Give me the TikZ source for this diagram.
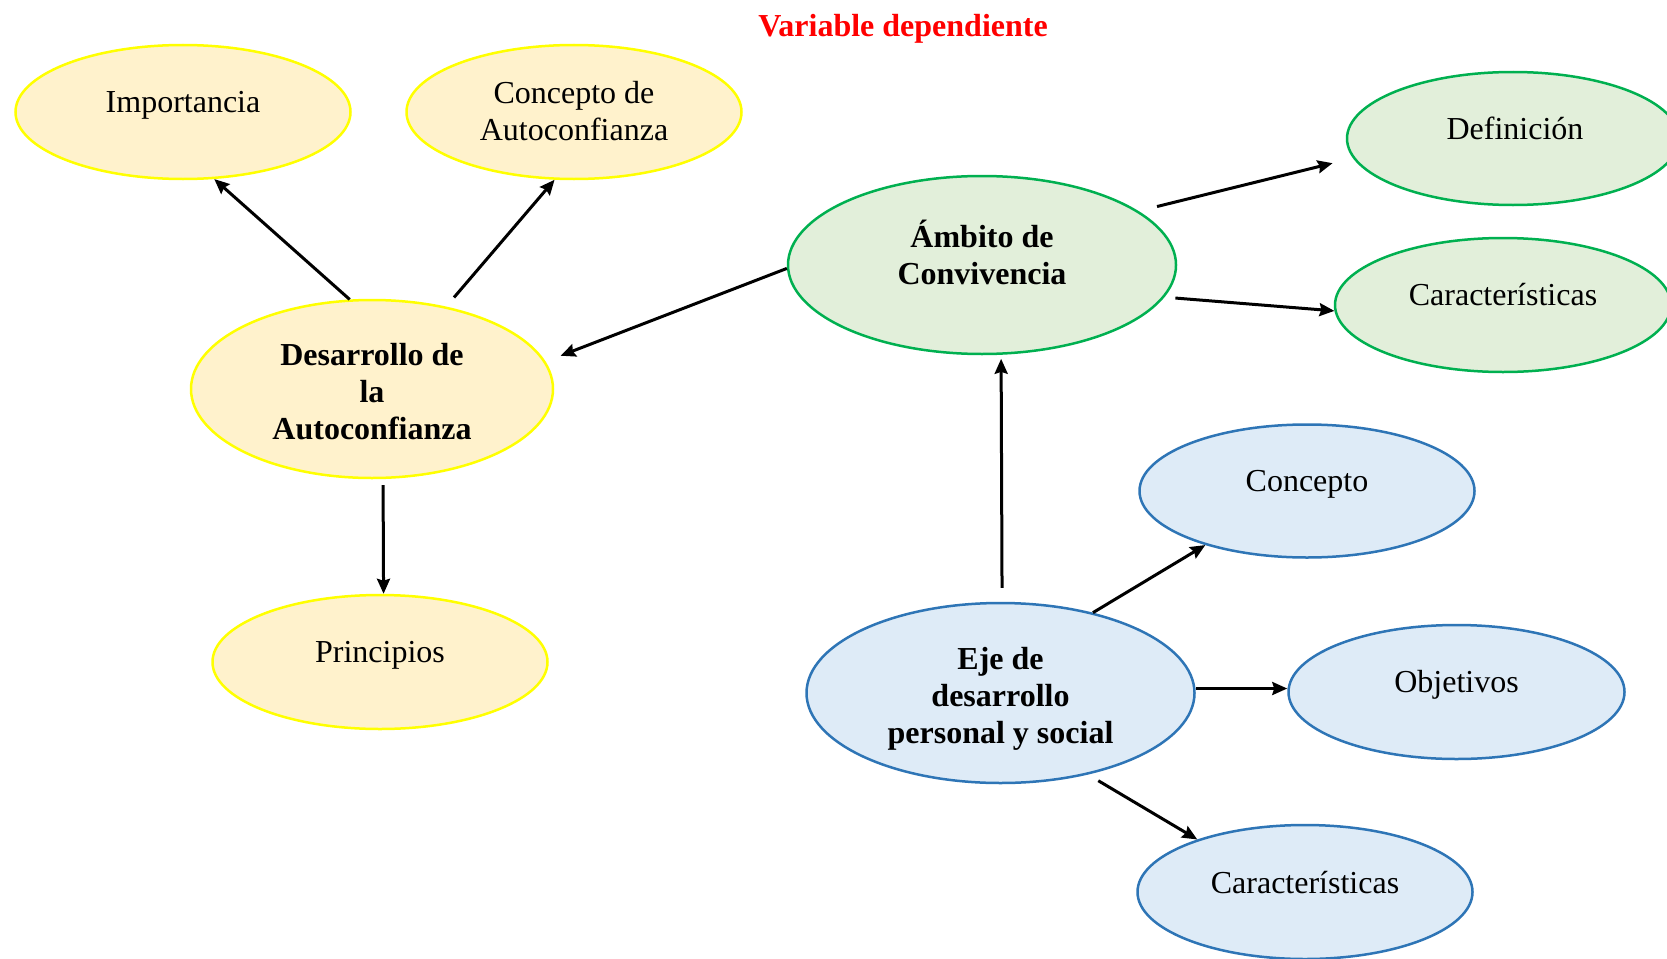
\documentclass[tikz,border=0pt]{standalone}
\usepackage{fontspec}
\setmainfont{Liberation Serif}
\usetikzlibrary{shapes.geometric,arrows.meta}
\definecolor{ylwfill}{HTML}{FFF2CC}
\definecolor{ylwline}{HTML}{FFFF00}
\definecolor{grnfill}{HTML}{E2EFDA}
\definecolor{grnline}{HTML}{00B050}
\definecolor{blufill}{HTML}{DEEBF7}
\definecolor{bluline}{HTML}{2E75B6}
\definecolor{titlered}{HTML}{FF0000}
\begin{document}
\begin{tikzpicture}[x=1pt,y=-1pt,
  oval/.style={ellipse, inner sep=0pt, line width=2.5pt},
  yel/.style={oval, draw=ylwline, fill=ylwfill},
  grn/.style={oval, draw=grnline, fill=grnfill},
  blu/.style={oval, draw=bluline, fill=blufill},
  lbl/.style={align=center, font=\fontsize{32}{37}\selectfont, inner sep=0pt},
  blbl/.style={align=center, font=\fontsize{32}{37}\selectfont\bfseries, inner sep=0pt},
  arr/.style={line width=3pt, -{Stealth[length=15pt,width=13pt,inset=2pt]}}]
\fill[white] (0,0) rectangle (1667,958);
\useasboundingbox (0,0) rectangle (1667,958);

\node[font=\fontsize{32}{37}\selectfont\bfseries, text=titlered, inner sep=0pt] (title) at (903,28.5) {Variable dependiente};

% yellow
\node[yel, minimum width=335pt, minimum height=134pt] (imp) at (183,112) {};
\node[lbl] (impt) at (183,105) {Importancia};
\node[yel, minimum width=335pt, minimum height=134pt] (cda) at (574,112) {};
\node[lbl] (cdat) at (574,111.5) {Concepto de\\Autoconfianza};
\node[yel, minimum width=362pt, minimum height=178pt] (des) at (372,389) {};
\node[blbl] (dest) at (372,392) {Desarrollo de\\la\\Autoconfianza};
\node[yel, minimum width=335pt, minimum height=134pt] (pri) at (380,662) {};
\node[lbl] (prit) at (380,655) {Principios};

% green
\node[grn, minimum width=388pt, minimum height=178pt] (amb) at (982,265) {};
\node[blbl] (ambt) at (982,252.5) {Ámbito de\\Convivencia};
\node[grn, minimum width=332pt, minimum height=133pt] (def) at (1513,138.5) {};
\node[lbl] (deft) at (1515,128) {Definición};
\node[grn, minimum width=336pt, minimum height=134pt] (car1) at (1503,305) {};
\node[lbl] (car1t) at (1503,295) {Características};

% blue
\node[blu, minimum width=388pt, minimum height=180pt] (eje) at (1000.5,693) {};
\node[blbl] (ejet) at (1000.5,699) {Eje de\\desarrollo\\personal y social};
\node[blu, minimum width=335pt, minimum height=133pt] (con) at (1307,491) {};
\node[lbl] (cont) at (1307,484) {Concepto};
\node[blu, minimum width=336pt, minimum height=134pt] (obj) at (1456.5,692) {};
\node[lbl] (objt) at (1456.5,685) {Objetivos};
\node[blu, minimum width=335pt, minimum height=134pt] (car2) at (1305,892) {};
\node[lbl] (car2t) at (1305,883) {Características};

% arrows
\draw[arr] (des.104.2) -- (imp.-65.5);
\draw[arr, shorten <=12pt] (des.48) -- (cda.-106.2);
\draw[arr, shorten <=6pt] (des.-83.4) -- (pri.87.5);
\draw[arr, shorten >=16pt] (amb.181.8) -- (des.9.76);
\draw[arr, shorten <=19pt, shorten >=21pt] (amb.19) -- (def.187.8);
\draw[arr, shorten <=11pt] (amb.-10.6) -- (car1.182.8);
\draw[arr, shorten <=14pt, shorten >=4pt] (eje.89.3) -- (amb.-78.1);
\draw[arr] (eje.41.1) -- (con.208);
\draw[arr] ([yshift=4.5pt]eje.east) -- ([yshift=4.5pt]eje.east -| obj.west);
\draw[arr, shorten <=12pt] (eje.-43.9) -- (car2.154.4);
\end{tikzpicture}
\end{document}
